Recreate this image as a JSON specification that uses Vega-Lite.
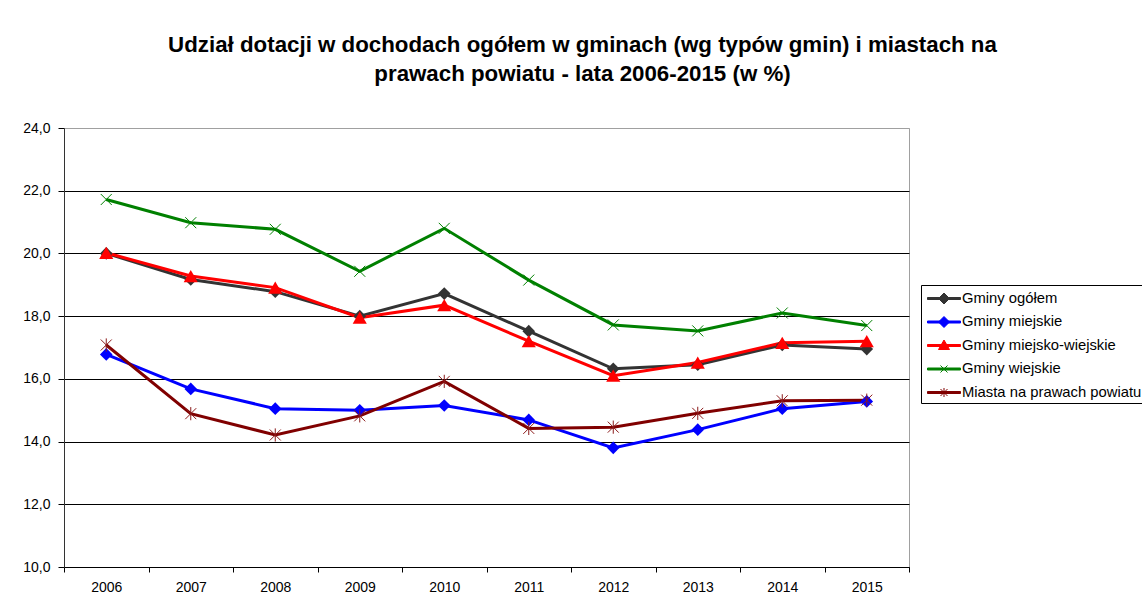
{
  "$schema": "https://vega.github.io/schema/vega-lite/v6.json",
  "autosize": "none",
  "width": 845,
  "height": 439,
  "padding": {"left": 64, "top": 128, "right": 233, "bottom": 43},
  "background": "white",
  "title": {
    "text": ["Udział dotacji w dochodach ogółem w gminach (wg typów gmin) i miastach na", "prawach powiatu - lata 2006-2015 (w %)"],
    "anchor": "middle",
    "dx": 96,
    "offset": 36,
    "font": "Liberation Sans",
    "fontSize": 22.3,
    "fontWeight": "bold",
    "color": "black",
    "lineHeight": 29
  },
  "data": {
    "values": [
      {"year": "2006", "series": "Gminy ogółem", "value": 20.0},
      {"year": "2007", "series": "Gminy ogółem", "value": 19.17},
      {"year": "2008", "series": "Gminy ogółem", "value": 18.78},
      {"year": "2009", "series": "Gminy ogółem", "value": 18.0},
      {"year": "2010", "series": "Gminy ogółem", "value": 18.72},
      {"year": "2011", "series": "Gminy ogółem", "value": 17.52},
      {"year": "2012", "series": "Gminy ogółem", "value": 16.32},
      {"year": "2013", "series": "Gminy ogółem", "value": 16.45},
      {"year": "2014", "series": "Gminy ogółem", "value": 17.08},
      {"year": "2015", "series": "Gminy ogółem", "value": 16.95},
      {"year": "2006", "series": "Gminy miejskie", "value": 16.78},
      {"year": "2007", "series": "Gminy miejskie", "value": 15.68},
      {"year": "2008", "series": "Gminy miejskie", "value": 15.05},
      {"year": "2009", "series": "Gminy miejskie", "value": 15.0},
      {"year": "2010", "series": "Gminy miejskie", "value": 15.15},
      {"year": "2011", "series": "Gminy miejskie", "value": 14.69},
      {"year": "2012", "series": "Gminy miejskie", "value": 13.8},
      {"year": "2013", "series": "Gminy miejskie", "value": 14.38},
      {"year": "2014", "series": "Gminy miejskie", "value": 15.05},
      {"year": "2015", "series": "Gminy miejskie", "value": 15.28},
      {"year": "2006", "series": "Gminy miejsko-wiejskie", "value": 20.02},
      {"year": "2007", "series": "Gminy miejsko-wiejskie", "value": 19.28},
      {"year": "2008", "series": "Gminy miejsko-wiejskie", "value": 18.91},
      {"year": "2009", "series": "Gminy miejsko-wiejskie", "value": 17.95},
      {"year": "2010", "series": "Gminy miejsko-wiejskie", "value": 18.35},
      {"year": "2011", "series": "Gminy miejsko-wiejskie", "value": 17.2},
      {"year": "2012", "series": "Gminy miejsko-wiejskie", "value": 16.1},
      {"year": "2013", "series": "Gminy miejsko-wiejskie", "value": 16.52},
      {"year": "2014", "series": "Gminy miejsko-wiejskie", "value": 17.15},
      {"year": "2015", "series": "Gminy miejsko-wiejskie", "value": 17.2},
      {"year": "2006", "series": "Gminy wiejskie", "value": 21.72},
      {"year": "2007", "series": "Gminy wiejskie", "value": 20.98},
      {"year": "2008", "series": "Gminy wiejskie", "value": 20.77},
      {"year": "2009", "series": "Gminy wiejskie", "value": 19.43},
      {"year": "2010", "series": "Gminy wiejskie", "value": 20.8},
      {"year": "2011", "series": "Gminy wiejskie", "value": 19.15},
      {"year": "2012", "series": "Gminy wiejskie", "value": 17.72},
      {"year": "2013", "series": "Gminy wiejskie", "value": 17.53},
      {"year": "2014", "series": "Gminy wiejskie", "value": 18.1},
      {"year": "2015", "series": "Gminy wiejskie", "value": 17.7},
      {"year": "2006", "series": "Miasta na prawach powiatu", "value": 17.08},
      {"year": "2007", "series": "Miasta na prawach powiatu", "value": 14.89},
      {"year": "2008", "series": "Miasta na prawach powiatu", "value": 14.21},
      {"year": "2009", "series": "Miasta na prawach powiatu", "value": 14.82},
      {"year": "2010", "series": "Miasta na prawach powiatu", "value": 15.92},
      {"year": "2011", "series": "Miasta na prawach powiatu", "value": 14.42},
      {"year": "2012", "series": "Miasta na prawach powiatu", "value": 14.46},
      {"year": "2013", "series": "Miasta na prawach powiatu", "value": 14.9},
      {"year": "2014", "series": "Miasta na prawach powiatu", "value": 15.3},
      {"year": "2015", "series": "Miasta na prawach powiatu", "value": 15.32}
    ]
  },
  "encoding": {
    "x": {
      "field": "year", "type": "ordinal",
      "scale": {"type": "band", "paddingInner": 0, "paddingOuter": 0},
      "axis": {
        "title": null, "labelAngle": 0, "tickBand": "extent", "tickSize": 5,
        "labelPadding": 8, "domainColor": "black", "tickColor": "black",
        "labelFont": "Liberation Sans", "labelFontSize": 14, "labelColor": "black", "grid": false
      }
    },
    "y": {
      "field": "value", "type": "quantitative",
      "scale": {"domain": [10, 24], "nice": false, "zero": false},
      "axis": {
        "title": null, "values": [10, 12, 14, 16, 18, 20, 22, 24],
        "labelExpr": "replace(format(datum.value, '.1f'), '.', ',')",
        "grid": true,
        "gridColor": {"condition": {"test": "datum.value === 24", "value": "#a0a0a0"}, "value": "black"},
        "gridWidth": 1,
        "domainColor": "#333333", "tickColor": "black", "tickSize": 6, "labelPadding": 8,
        "labelFont": "Liberation Sans", "labelFontSize": 14, "labelColor": "black"
      }
    }
  },
  "layer": [
    {
      "mark": {"type": "line", "strokeWidth": 3},
      "encoding": {
        "color": {
          "field": "series", "type": "nominal",
          "scale": {
            "domain": ["Gminy ogółem", "Gminy miejskie", "Gminy miejsko-wiejskie", "Gminy wiejskie", "Miasta na prawach powiatu"],
            "range": ["#333333", "#0000ff", "#ff0000", "#008000", "#800000"]
          },
          "legend": {
            "title": null,
            "orient": "none",
            "legendX": 857,
            "legendY": 157,
            "padding": 3,
            "strokeColor": "black",
            "fillColor": "white",
            "labelFont": "Liberation Sans",
            "labelFontSize": 14.8,
            "labelColor": "black",
            "labelLimit": 400,
            "symbolSize": 400,
            "labelOffset": 17,
            "rowPadding": 5.5,
            "encode": {
              "symbols": {
                "update": {
                  "shape": {"signal": "(datum.value === 'Gminy ogółem' || datum.value === 'Gminy miejskie') ? 'M-0.7,-0.1H2.6V0.1H-0.7Z M0.4,0L0.95,-0.55L1.5,0L0.95,0.55Z' : datum.value === 'Gminy miejsko-wiejskie' ? 'M-0.7,-0.1H2.6V0.1H-0.7Z M0.4,0.4L0.95,-0.55L1.5,0.4Z' : datum.value === 'Gminy wiejskie' ? 'M-0.7,-0.1H2.6V0.1H-0.7Z M0.6,-0.35L1.3,0.35M0.6,0.35L1.3,-0.35' : 'M-0.7,-0.1H2.6V0.1H-0.7Z M0.6,-0.35L1.3,0.35M0.6,0.35L1.3,-0.35M0.95,-0.45L0.95,0.45'"},
                  "fill": {"scale": "color", "field": "value"},
                  "stroke": {"scale": "color", "field": "value"},
                  "strokeWidth": {"value": 1},
                  "opacity": {"value": 1}
                }
              }
            }
          }
        }
      }
    },
    {
      "transform": [{"filter": {"field": "series", "oneOf": ["Gminy ogółem", "Gminy miejskie"]}}],
      "mark": {"type": "point", "shape": "diamond", "filled": true, "size": 160, "opacity": 1},
      "encoding": {
        "fill": {
          "field": "series", "type": "nominal",
          "scale": {"domain": ["Gminy ogółem", "Gminy miejskie"], "range": ["#333333", "#0000ff"]},
          "legend": null
        }
      }
    },
    {
      "transform": [{"filter": {"field": "series", "equal": "Gminy miejsko-wiejskie"}}],
      "mark": {"type": "point", "shape": "triangle-up", "filled": true, "size": 200, "opacity": 1, "color": "#ff0000"}
    },
    {
      "transform": [{"filter": {"field": "series", "oneOf": ["Gminy wiejskie", "Miasta na prawach powiatu"]}}],
      "mark": {"type": "point", "filled": false, "size": 121, "strokeWidth": 1, "opacity": 1},
      "encoding": {
        "stroke": {
          "field": "series", "type": "nominal",
          "scale": {"domain": ["Gminy wiejskie", "Miasta na prawach powiatu"], "range": ["#008000", "#8b1a1a"]},
          "legend": null
        },
        "shape": {
          "field": "series", "type": "nominal",
          "scale": {"domain": ["Gminy wiejskie", "Miasta na prawach powiatu"], "range": ["M-1,-1L1,1M-1,1L1,-1", "M-1,-1L1,1M-1,1L1,-1M0,-1.2L0,1.2"]},
          "legend": null
        }
      }
    }
  ],
  "config": {
    "view": {"stroke": "#a0a0a0", "strokeWidth": 1},
    "font": "Liberation Sans"
  }
}
